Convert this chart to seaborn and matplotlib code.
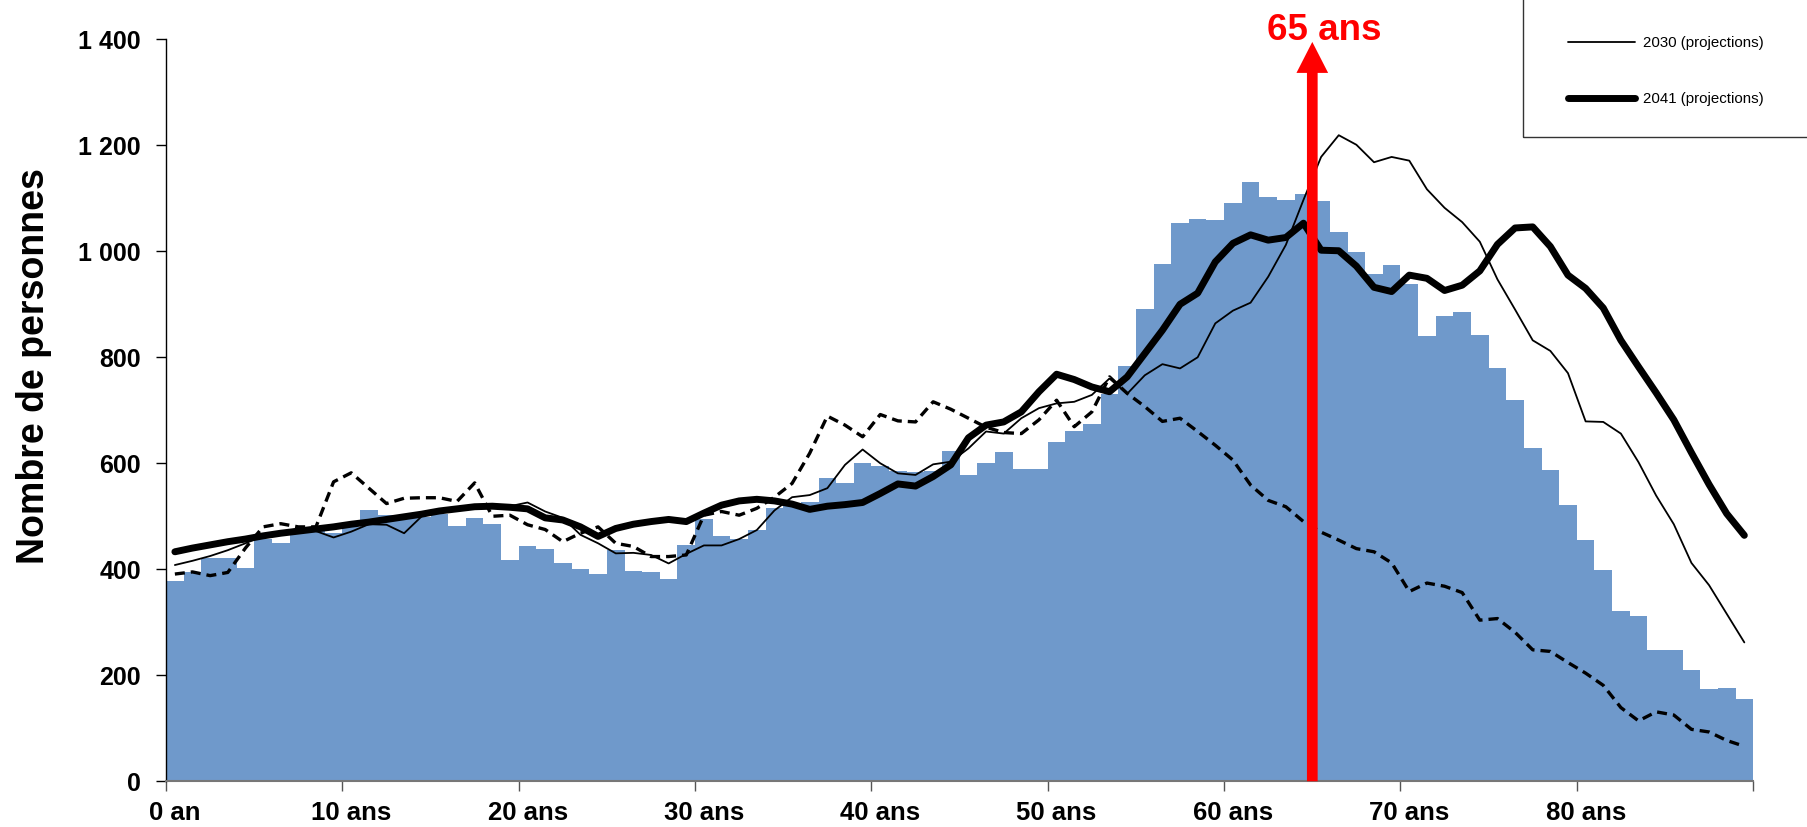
import pandas as pd
import matplotlib
matplotlib.use("Agg")
import matplotlib.pyplot as plt
from matplotlib.patches import Rectangle
import seaborn as sns

# Pyramide des âges : population par âge (barres) et courbes de comparaison
ages = list(range(90))

pop_bars = [378, 395, 422, 422, 402, 458, 450, 470, 472, 468,
            480, 512, 502, 498, 498, 504, 482, 496, 485, 418,
            444, 439, 412, 400, 392, 436, 396, 394, 382, 445,
            494, 463, 457, 475, 515, 523, 527, 572, 562, 601,
            595, 586, 584, 586, 624, 578, 600, 622, 590, 589,
            641, 660, 675, 731, 784, 892, 976, 1054, 1061, 1059,
            1092, 1130, 1103, 1097, 1109, 1095, 1037, 998, 957, 974,
            938, 841, 878, 886, 842, 780, 720, 629, 588, 522,
            455, 399, 322, 312, 248, 247, 210, 175, 176, 156]

pop_dashed = [391, 395, 388, 394, 440, 480, 486, 480, 480, 565,
              582, 553, 524, 534, 535, 535, 528, 563, 500, 502,
              484, 475, 452, 468, 480, 449, 443, 424, 424, 427,
              502, 509, 502, 515, 536, 562, 619, 689, 672, 650,
              692, 680, 678, 716, 702, 685, 668, 658, 656, 682,
              719, 669, 697, 763, 732, 707, 679, 685, 660, 634,
              606, 559, 530, 518, 490, 470, 455, 439, 433, 412,
              358, 374, 368, 356, 304, 307, 281, 248, 245, 224,
              204, 181, 139, 114, 131, 125, 98, 93, 77, 66]

pop_2030 = [408, 416, 425, 436, 449, 463, 471, 476, 472, 460,
            471, 485, 484, 468, 500, 508, 513, 517, 519, 519,
            526, 509, 497, 465, 449, 430, 431, 427, 411, 429,
            445, 445, 457, 474, 511, 536, 540, 553, 597, 626,
            600, 581, 578, 598, 603, 628, 660, 656, 685, 704,
            713, 716, 729, 760, 731, 766, 787, 779, 800, 864,
            888, 903, 952, 1012, 1097, 1178, 1219, 1201, 1168, 1178,
            1171, 1117, 1082, 1055, 1018, 947, 890, 832, 812, 770,
            679, 678, 656, 602, 539, 485, 412, 370, 316, 262]

pop_2041 = [433, 440, 446, 452, 457, 463, 468, 472, 476, 480,
            485, 489, 494, 499, 504, 510, 514, 518, 519, 517,
            514, 497, 493, 480, 462, 477, 485, 490, 494, 490,
            506, 521, 529, 532, 529, 523, 513, 519, 522, 526,
            543, 561, 557, 575, 597, 648, 672, 678, 697, 735,
            768, 758, 744, 735, 763, 807, 851, 900, 921, 980,
            1015, 1031, 1021, 1026, 1053, 1002, 1001, 972, 932, 924,
            955, 949, 926, 936, 963, 1013, 1044, 1046, 1009, 955,
            930, 893, 832, 782, 733, 682, 620, 560, 505, 464]

y_ticks = [0, 200, 400, 600, 800, 1000, 1200, 1400]
y_labels = ["0", "200", "400", "600", "800", "1 000", "1 200", "1 400"]
x_label_ages = [0, 10, 20, 30, 40, 50, 60, 70, 80]
x_labels = ["0 an", "10 ans", "20 ans", "30 ans", "40 ans",
            "50 ans", "60 ans", "70 ans", "80 ans"]

df = pd.DataFrame({"age": ages, "bars": pop_bars, "dashed": pop_dashed,
                   "p2030": pop_2030, "p2041": pop_2041})

sns.set_theme(style="white")
plt.rcParams["font.family"] = ["Liberation Sans", "DejaVu Sans"]
plt.rcParams["text.color"] = "black"
plt.rcParams["axes.labelcolor"] = "black"
plt.rcParams["xtick.color"] = "black"
plt.rcParams["ytick.color"] = "black"

fig = plt.figure(figsize=(18.07, 8.27), dpi=100)
ax = fig.add_axes([0.0919, 0.0553, 0.8783, 0.8972])

sns.barplot(data=df, x="age", y="bars", color="#6F99CB", saturation=1,
            width=1.0, linewidth=0, ax=ax)
sns.lineplot(x=df.index, y=df["dashed"], color="black", lw=2.4,
             linestyle=(0, (3, 1.8)), ax=ax)
l2030, = ax.plot(df.index, df["p2030"], color="black", lw=1.3)
l2041, = ax.plot(df.index, df["p2041"], color="black", lw=5,
                 solid_joinstyle="round", solid_capstyle="round")

# flèche rouge à 65 ans
ax.annotate("", xy=(64.5, 1395), xytext=(64.5, 0),
            arrowprops=dict(facecolor="red", edgecolor="none", width=7.7,
                            headwidth=22.8, headlength=22.3, shrink=0),
            annotation_clip=False)
ax.text(65.2, 1416, "65 ans", color="red", fontsize=26.5, fontweight="bold",
        ha="center", va="center", clip_on=False)

ax.set_xlim(-0.5, 89.5)
ax.set_ylim(0, 1400)

# graduations entre les classes, libellés centrés sur l'âge
ax.set_xticks([a - 0.5 for a in range(0, 91, 10)])
ax.set_xticklabels([])
ax.set_xticks(x_label_ages, minor=True)
ax.set_xticklabels(x_labels, minor=True, fontsize=18.5, fontweight="bold",
                   color="black")
ax.tick_params(axis="x", which="major", direction="out", length=7,
               width=1, color="#555555", bottom=True)
ax.tick_params(axis="x", which="minor", length=0, pad=14)

ax.set_yticks(y_ticks)
ax.set_yticklabels(y_labels, fontsize=18, fontweight="bold", color="black")
ax.tick_params(axis="y", direction="out", length=7, width=1,
               color="black", left=True, pad=11)

ax.set_xlabel("")
ax.set_ylabel("Nombre de personnes", fontsize=27, fontweight="bold",
              color="black")
ax.yaxis.set_label_coords(-0.072, 0.56)

for side in ["top", "right"]:
    ax.spines[side].set_visible(False)
ax.spines["left"].set_color("black")
ax.spines["left"].set_linewidth(1)
ax.spines["bottom"].set_color("#777777")
ax.spines["bottom"].set_linewidth(1.5)

# cadre de légende (coupé en haut et à droite)
fig.patches.append(Rectangle((1523 / 1807, 1 - 137 / 827), 0.3, 0.3,
                             transform=fig.transFigure, fill=False,
                             edgecolor="#333333", linewidth=1))
leg = ax.legend(handles=[l2030, l2041],
                labels=["2030 (projections)", "2041 (projections)"],
                loc="upper left", bbox_to_anchor=(1560 / 1807, 1 - 29 / 827),
                bbox_transform=fig.transFigure, frameon=False, borderpad=0,
                fontsize=10.8, handlelength=4.5, handletextpad=0.55,
                labelspacing=2.75)
for t in leg.get_texts():
    t.set_color("black")

fig.savefig("out.png", dpi=100)
